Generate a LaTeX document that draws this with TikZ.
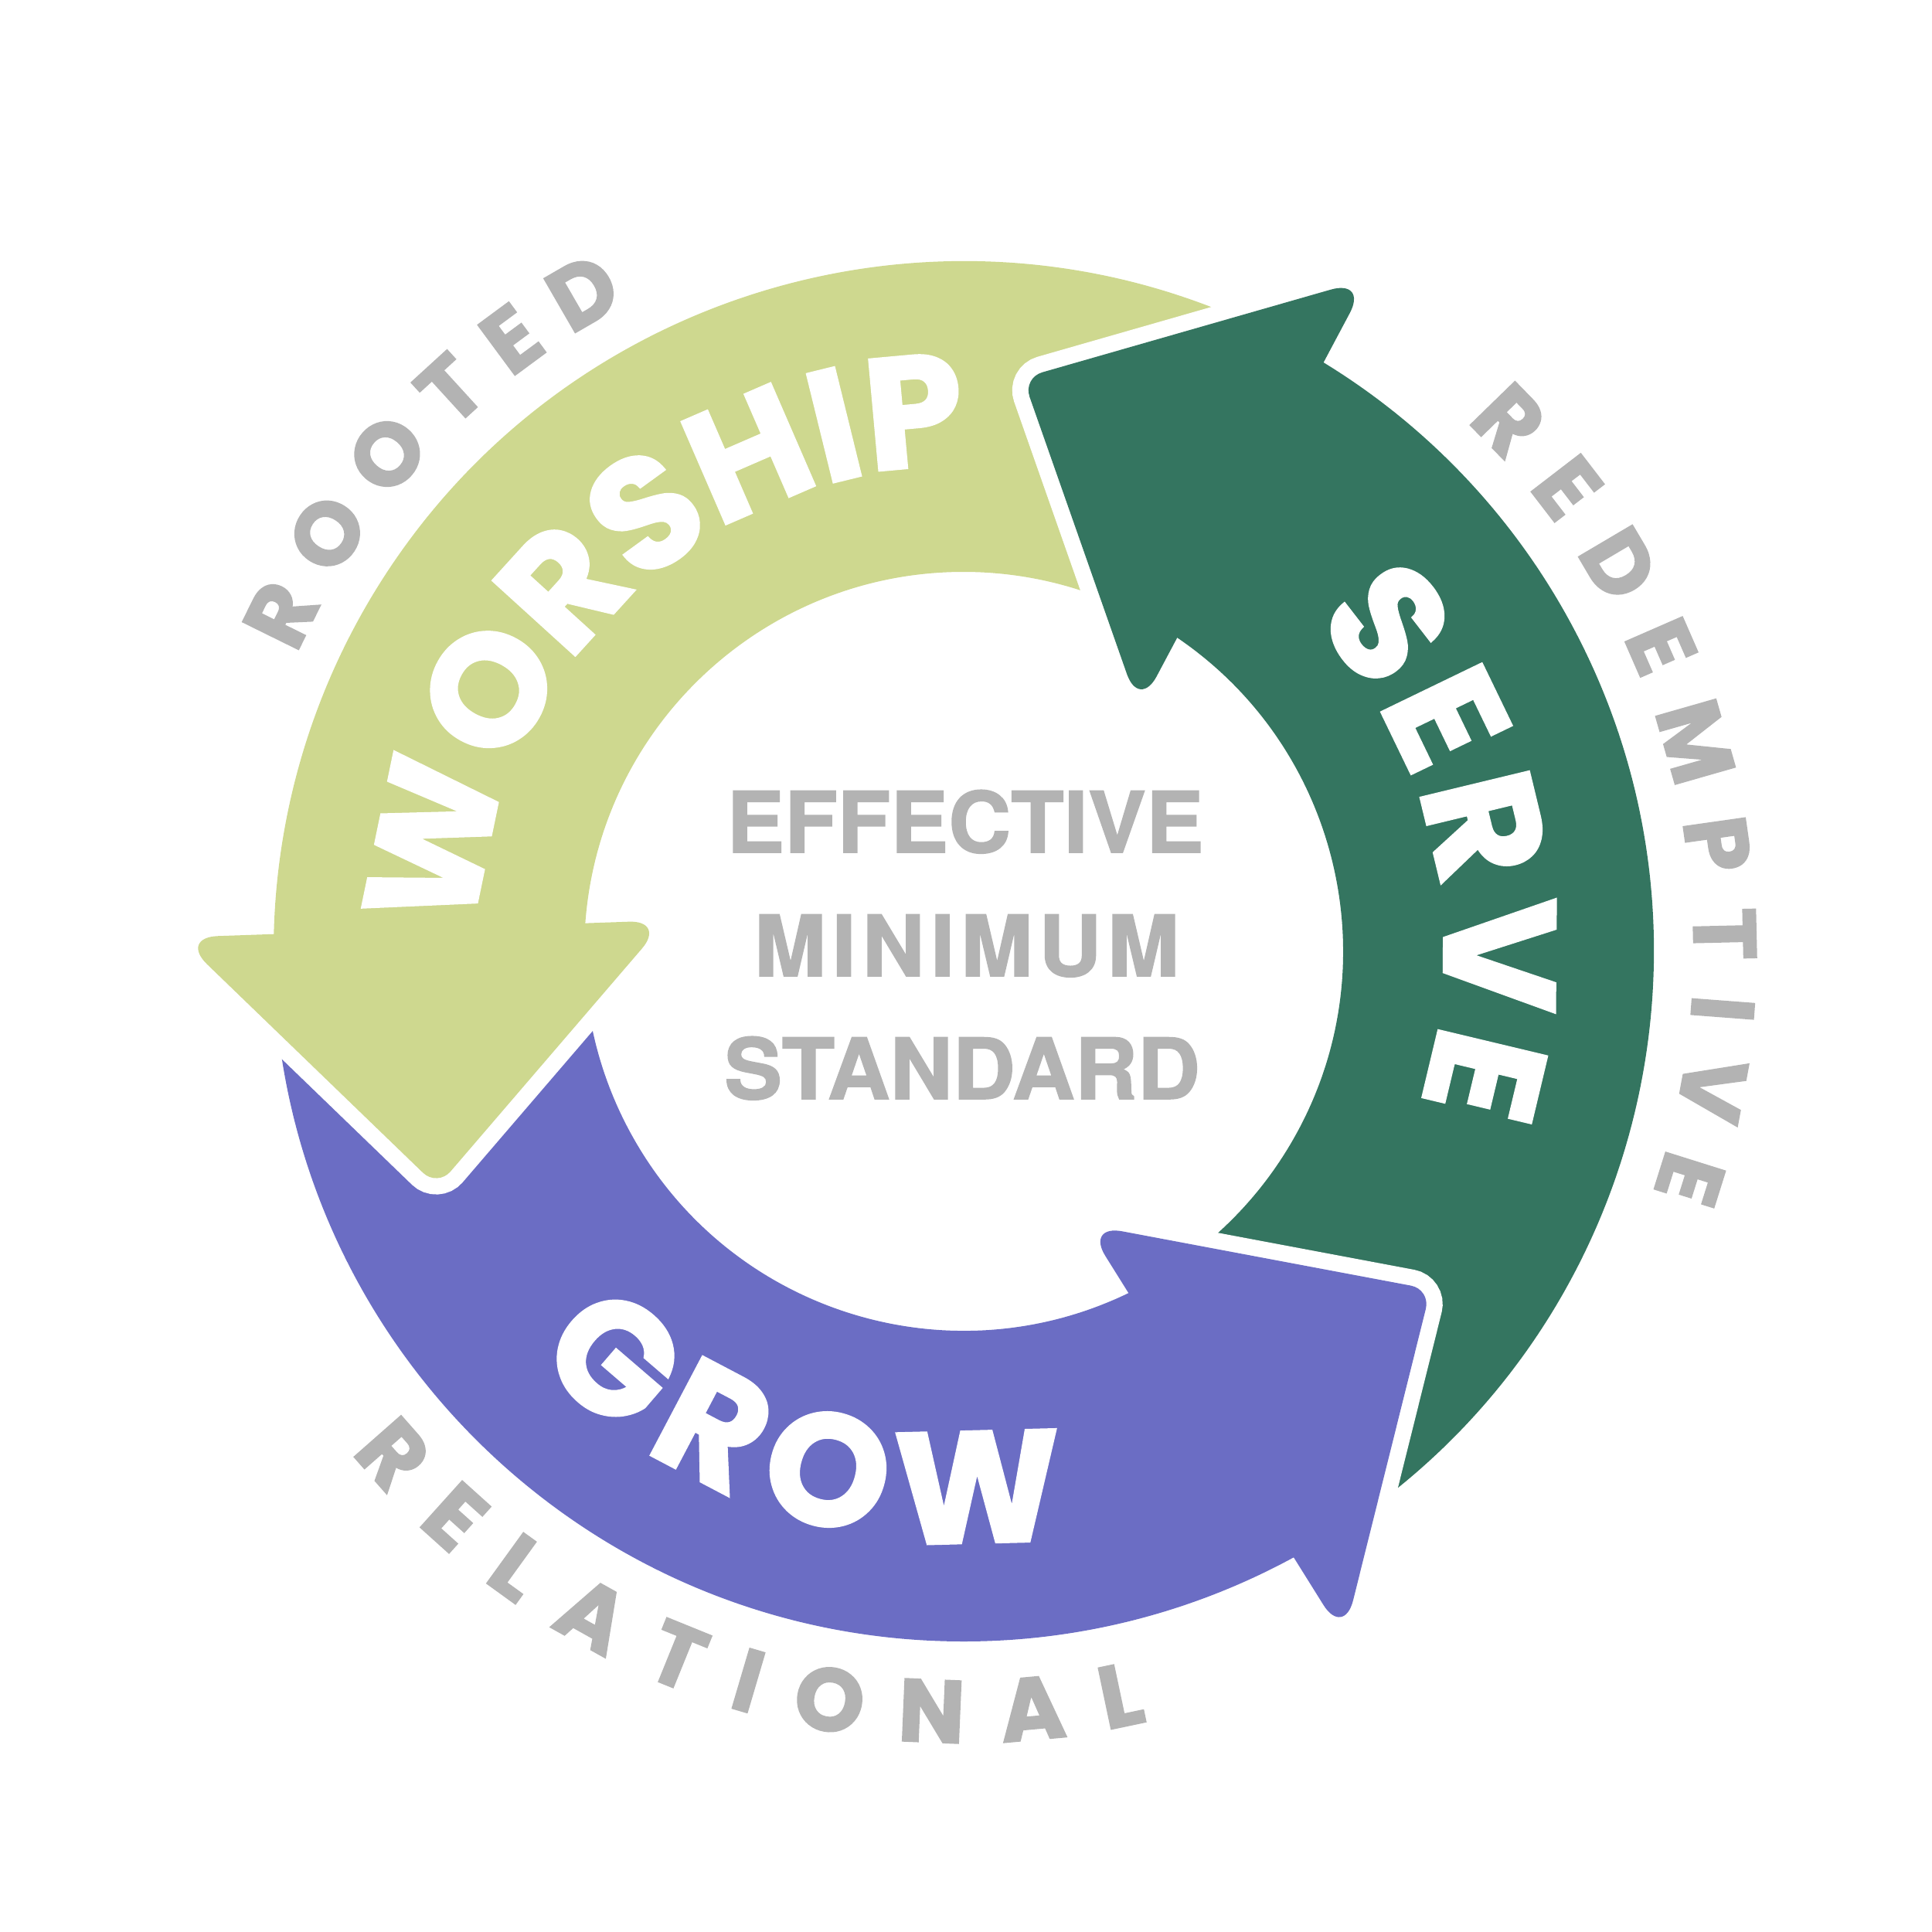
\documentclass[tikz,border=0pt]{standalone}
\usepackage{fontspec}
\usepackage{tikz}
\usetikzlibrary{
  calc,
  decorations.text
}
\newfontfamily\popfont{Poppins}[BoldFeatures={FakeBold=2}]
\newfontfamily\heavyfont{TeX Gyre Heros}[FakeStretch=1.03, BoldFeatures={FakeBold=1.5}]
\definecolor{wsGreen}{HTML}{CED88F}
\definecolor{svGreen}{HTML}{347560}
\definecolor{grPurple}{HTML}{6B6DC4}
\definecolor{emGray}{HTML}{B3B3B3}
\newcommand{\ringfont}{\fontsize{58}{58}\selectfont\popfont\bfseries}
\newcommand{\outerfont}{\fontsize{32.5}{32.5}\selectfont\popfont\bfseries}
\tikzset{
  headgap/.style={draw=white, line width=4.2mm},
  ringword/.style={
    decorate, decoration={text along path, text align={fit to path},
    text color=white, text={|\ringfont|#1}}
  },
  outerword/.style={
    decorate, decoration={text along path, text align={fit to path},
    text color=emGray, text={|\outerfont|#1}}
  },
  centreword/.style={
    font=\fontsize{31}{31}\selectfont\heavyfont\bfseries, text=emGray,
    anchor=base, inner sep=0pt
  }
}

\begin{document}
\begin{tikzpicture}
  \useasboundingbox (-12.47,-12.69) rectangle (12.53,12.31);
  % ring bodies, each one starts under the head before it
  \foreach \rot/\col in {0/wsGreen, -120/svGreen, 120/grPurple}{
    \fill[\col, rotate=\rot] (60:8.93) arc[start angle=60, end angle=180.6, radius=8.93]
      -- (177.8:4.91) arc[start angle=177.8, end angle=57.3, radius=4.91] -- cycle;
  }
  % arrow heads with a white gap round them
  \foreach \rot/\col/\nm in {0/wsGreen/ws, -120/svGreen/sv, 120/grPurple/gr}{
    \begin{scope}[rotate=\rot]
      \coordinate (\nm-wo) at (-10.15,0.18);
      \coordinate (\nm-tip) at (204.1:7.46);
      \coordinate (\nm-wi) at (-3.85,0.40);
      \coordinate (\nm-mid) at ($(\nm-wo)!.5!(\nm-wi)$);
      \draw[headgap] ($(\nm-wo)!6mm!(\nm-wi)$) [rounded corners=5mm] -- (\nm-wo)
        [rounded corners=2.6mm] -- (\nm-tip) [rounded corners=4.8mm] -- (\nm-wi)
        -- ($(\nm-wi)!6mm!(\nm-wo)$);
      \fill[\col] (\nm-mid) [rounded corners=5mm] -- (\nm-wo)
        [rounded corners=2.6mm] -- (\nm-tip) [rounded corners=4.8mm] -- (\nm-wi) -- cycle;
    \end{scope}
  }
  % words on the ring
  \path[ringword=WORSHIP] (178:6.3) arc[start angle=178, end angle=89.5, radius=6.3];
  \path[ringword=SERVE] (43.5:6.22) arc[start angle=43.5, end angle=-18.5, radius=6.22];
  \path[ringword=GROW] (223.5:7.65) arc[start angle=223.5, end angle=279.5, radius=7.65];
  % words round the outside
  \path[outerword=ROOTED] (156:9.45) arc[start angle=156, end angle=117.5, radius=9.45];
  \path[outerword=REDEMPTIVE] (46.5:9.45) arc[start angle=46.5, end angle=-19.3, radius=9.45];
  \path[outerword=RELATIONAL] (219.3:10.24) arc[start angle=219.3, end angle=283.4, radius=10.24];
  % centre
  \node[centreword] (eff) at (0.02,1.28) {EFFECTIVE};
  \node[centreword] (mini) at (0.04,-0.32) {\addfontfeature{LetterSpace=7}MINIMUM};
  \node[centreword] (std) at (-0.02,-1.91) {STANDARD};
\end{tikzpicture}
\end{document}
